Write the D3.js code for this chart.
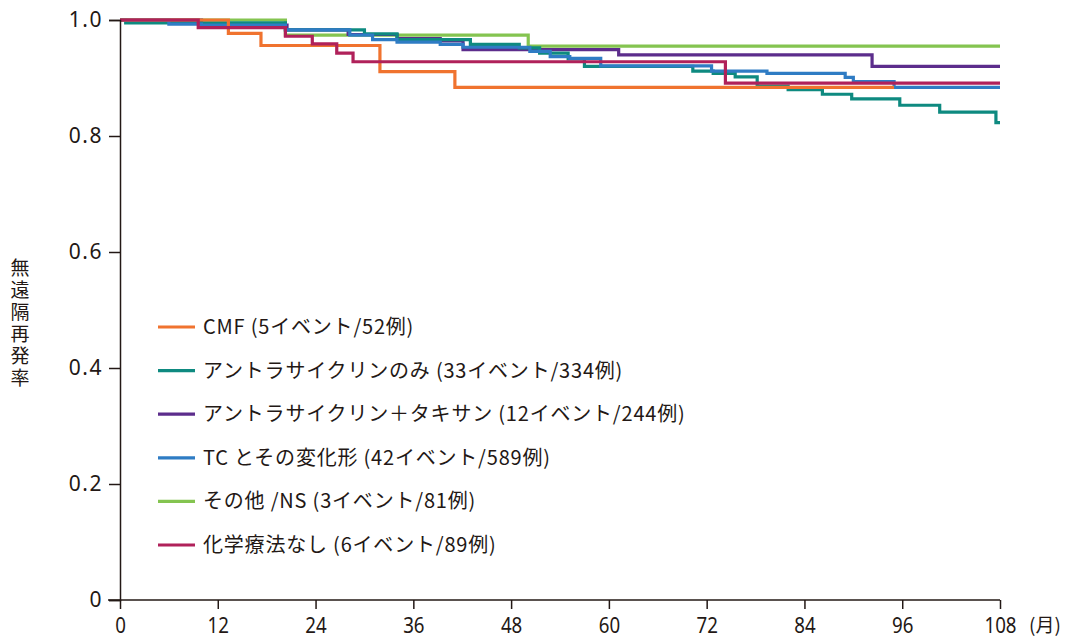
<!DOCTYPE html>
<html>
<head>
<meta charset="utf-8">
<script src="https://cdn.jsdelivr.net/npm/d3@7"></script>
<style>
  body { margin: 0; background: #fff; }
  text { font-family: "Noto Sans CJK JP", "Noto Sans", sans-serif; fill: #231815; }
</style>
</head>
<body>
<div id="chart-container"></div>
<script>
// Kaplan-Meier style step data (months, survival)
const cmfMonths = [0, 13.3, 17.3, 31.9, 41.1, 95];
const cmfSurv   = [1.0, 0.977, 0.956, 0.911, 0.884, 0.884];

const anthraMonths = [0, 0.7, 20.3, 30, 34, 43, 49, 51.5, 55, 57, 70.3, 72.8, 75.5, 78.2, 82, 86.2, 89.8, 95.7, 100.6, 107.5, 108];
const anthraSurv   = [1.0, 0.995, 0.983, 0.976, 0.966, 0.958, 0.952, 0.943, 0.933, 0.920, 0.912, 0.908, 0.902, 0.886, 0.880, 0.872, 0.864, 0.853, 0.841, 0.823, 0.823];

const taxMonths = [0, 10, 20.5, 28, 34, 39.3, 42.1, 61.2, 92.3, 108];
const taxSurv   = [1.0, 0.991, 0.983, 0.975, 0.968, 0.964, 0.949, 0.940, 0.920, 0.920];

const tcMonths = [0, 6, 10, 20.3, 28.2, 31, 34, 39.3, 42.1, 50.3, 52.8, 55.2, 59, 72.6, 79.4, 89, 90, 95, 108];
const tcSurv   = [1.0, 0.993, 0.991, 0.983, 0.974, 0.966, 0.962, 0.958, 0.953, 0.946, 0.937, 0.934, 0.921, 0.912, 0.908, 0.901, 0.894, 0.884, 0.884];

const otherMonths = [0, 20.3, 50.1, 108];
const otherSurv   = [1.0, 0.974, 0.955, 0.955];

const noChemoMonths = [0, 9.6, 20.3, 23.6, 26.6, 28.6, 74.3, 108];
const noChemoSurv   = [1.0, 0.987, 0.972, 0.959, 0.943, 0.928, 0.891, 0.891];

const seriesNames = [
  "CMF (5イベント/52例)",
  "アントラサイクリンのみ (33イベント/334例)",
  "アントラサイクリン＋タキサン (12イベント/244例)",
  "TC とその変化形 (42イベント/589例)",
  "その他 /NS (3イベント/81例)",
  "化学療法なし (6イベント/89例)"
];
const seriesColors = ["#f0732f", "#0e8a80", "#5c2d8c", "#2f7cc4", "#84c450", "#b0215a"];

const xTicks = [0, 12, 24, 36, 48, 60, 72, 84, 96, 108];
const yTicks = [0, 0.2, 0.4, 0.6, 0.8, 1.0];

const series = [
  [cmfMonths, cmfSurv],
  [anthraMonths, anthraSurv],
  [taxMonths, taxSurv],
  [tcMonths, tcSurv],
  [otherMonths, otherSurv],
  [noChemoMonths, noChemoSurv]
].map(([m, s], i) => ({
  name: seriesNames[i],
  color: seriesColors[i],
  values: m.map((t, j) => ({ t: t, s: s[j] }))
}));

// drawing order: later on top
const drawOrder = [4, 2, 1, 3, 0, 5];

const W = 1065, H = 639;
const margin = { top: 20, right: 65, bottom: 39, left: 120 };
const width = W - margin.left - margin.right;
const height = H - margin.top - margin.bottom;

const svg = d3.select("#chart-container")
  .append("svg")
  .attr("width", W)
  .attr("height", H);

const g = svg.append("g")
  .attr("transform", `translate(${margin.left},${margin.top})`);

const x = d3.scaleLinear().domain([0, 108]).range([0, width]);
const y = d3.scaleLinear().domain([0, 1]).range([height, 0]);

// Lines
const line = d3.line()
  .x(d => x(d.t))
  .y(d => y(d.s))
  .curve(d3.curveStepAfter);

drawOrder.forEach(i => {
  g.append("path")
    .datum(series[i].values)
    .attr("d", line)
    .attr("fill", "none")
    .attr("stroke", series[i].color)
    .attr("stroke-width", 3.2);
});

// Y axis
const yAxis = g.append("g")
  .call(d3.axisLeft(y).tickValues(yTicks).tickSize(11).tickPadding(6)
    .tickFormat(d => d === 0 ? "0" : d3.format(".1f")(d)));
yAxis.select(".domain").attr("stroke", "#231815").attr("stroke-width", 1.5);
yAxis.selectAll(".tick line").attr("stroke", "#231815").attr("stroke-width", 1.5);
yAxis.selectAll(".tick text")
  .style("font-family", "'Noto Sans', sans-serif")
  .style("font-size", "21px")
  .style("letter-spacing", "1.5px")
  .attr("fill", "#231815");

// X axis
const xAxis = g.append("g")
  .attr("transform", `translate(0,${height})`)
  .call(d3.axisBottom(x).tickValues(xTicks).tickSize(9).tickPadding(4));
xAxis.select(".domain")
  .attr("d", `M${-12},0H${width}`)
  .attr("stroke", "#231815").attr("stroke-width", 1.5);
xAxis.selectAll(".tick line").attr("stroke", "#231815").attr("stroke-width", 1.5);
xAxis.selectAll(".tick text")
  .style("font-family", "'Noto Sans', sans-serif")
  .style("font-size", "22px")
  .attr("fill", "#231815")
  .attr("transform", "scale(0.85,1)")
  .attr("y", 33)
  .attr("dy", 0);

g.append("text")
  .attr("x", width + 29)
  .attr("y", height + 32)
  .style("font-size", "19px")
  .text("(月)");

// Y axis title (vertical)
svg.append("text")
  .attr("x", 20)
  .attr("y", 258)
  .style("writing-mode", "vertical-rl")
  .style("text-orientation", "upright")
  .style("font-size", "19px")
  .style("letter-spacing", "3px")
  .text("無遠隔再発率");

// Legend
const legend = g.append("g").attr("transform", "translate(38,307)");
seriesNames.forEach((name, i) => {
  const row = legend.append("g").attr("transform", `translate(0,${i * 43.6})`);
  row.append("line")
    .attr("x1", 0).attr("x2", 37)
    .attr("stroke", seriesColors[i])
    .attr("stroke-width", 3.2);
  row.append("text")
    .attr("x", 45)
    .attr("dy", "0.35em")
    .style("font-size", "20px")
    .style("letter-spacing", "0.8px")
    .text(name);
});
</script>
</body>
</html>
